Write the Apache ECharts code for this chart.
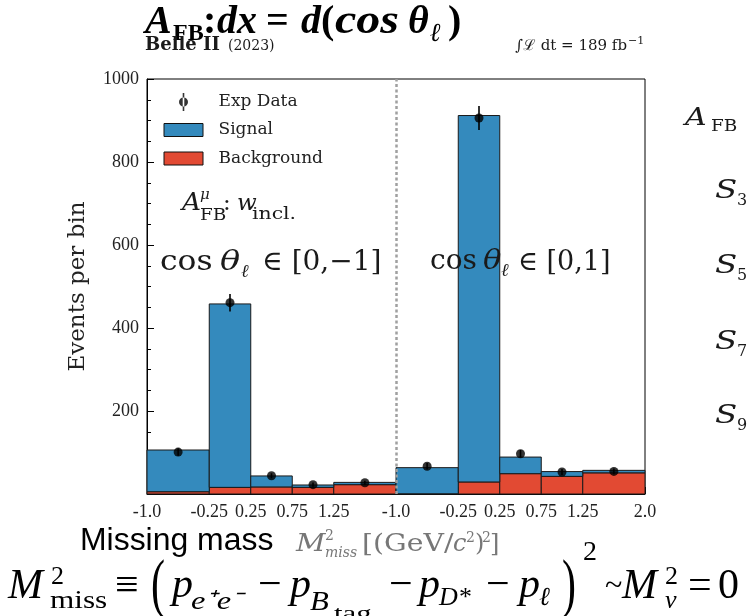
<!DOCTYPE html>
<html><head><meta charset="utf-8">
<script src="https://cdn.jsdelivr.net/npm/echarts@6/dist/echarts.min.js"></script>
<style>html,body{margin:0;padding:0;background:#fff}#c{width:748px;height:616px}</style>
</head><body><div id="c"></div>
<script>
// ---- data ----
const binEdges = [-1.0, -0.25, 0.25, 0.75, 1.25, 2.0];
const tickLabels = ['-1.0','-0.25','0.25','0.75','1.25','-1.0','-0.25','0.25','0.75','1.25','2.0'];
const backgroundNeg = [5.5, 16, 17, 16, 22.5];
const signalNeg = [100.5, 442, 26.5, 5.7, 5.5];
const dataNeg = [101, 461, 44, 22.5, 27];
const errNeg = [9, 21, 6, 5, 5];
const backgroundPos = [0.5, 29, 49, 42.5, 51];
const signalPos = [63, 883, 40, 11.5, 6];
const dataPos = [67, 906, 97, 53, 54.5];
const errPos = [8, 29, 9, 7, 7];
const yMax = 1000, yInterval = 200;

// ---- build ----
const span = binEdges[binEdges.length-1] - binEdges[0];
const halves = [
  {bg: backgroundNeg, sig: signalNeg, d: dataNeg, e: errNeg},
  {bg: backgroundPos, sig: signalPos, d: dataPos, e: errPos}
];
const bgRects = [], sigRects = [], pts = [];
halves.forEach((h, hi) => {
  for (let i = 0; i < binEdges.length - 1; i++) {
    const u0 = hi*span + binEdges[i] - binEdges[0];
    const u1 = hi*span + binEdges[i+1] - binEdges[0];
    bgRects.push([u0, u1, 0, h.bg[i]]);
    sigRects.push([u0, u1, h.bg[i], h.bg[i] + h.sig[i]]);
    pts.push([(u0+u1)/2, h.d[i], h.e[i]]);
  }
});
const tickPos = [];
halves.forEach((h, hi) => {
  const n = hi === halves.length-1 ? binEdges.length : binEdges.length-1;
  for (let i = 0; i < n; i++) tickPos.push(hi*span + binEdges[i] - binEdges[0]);
});

function rectItem(params, api) {
  const p0 = api.coord([api.value(0), api.value(3)]);
  const p1 = api.coord([api.value(1), api.value(2)]);
  return {type:'rect', shape:{x:p0[0], y:p0[1], width:p1[0]-p0[0], height:p1[1]-p0[1]},
    style:{fill: api.visual('color'), stroke:'#1a1a1a', lineWidth:1}};
}
function errItem(params, api) {
  const x = api.value(0), y = api.value(1), e = api.value(2);
  const a = api.coord([x, y-e]), b = api.coord([x, y+e]);
  return {type:'line', shape:{x1:a[0], y1:a[1], x2:b[0], y2:b[1]}, style:{stroke:'#000', lineWidth:1.6}};
}

const SERIF = "'DejaVu Serif'";
const LSERIF = "'Liberation Serif'";
function T(x, base, text, size, o) {
  o = o || {};
  const fam = o.fam || SERIF;
  const font = (o.it ? 'italic ' : '') + (o.bold ? 'bold ' : '') + size + 'px ' + fam;
  const y = (o.yc !== undefined) ? o.yc : base - 0.34*size;
  const al = o.align || 'left';
  return {type:'text', x:x, y:y, silent:true, z:100, scaleX:o.sx||1, scaleY:o.sy||1,
    style:{text:text, font:font, fill:o.fill||'#1a1a1a', align:al, textAlign:al, verticalAlign:'middle', textVerticalAlign:'middle'}};
}
const TB = LSERIF;
const K = '#000', G = '#777';
const gfx = [
  // title
  T(145, 36, 'A', 40, {fam:TB, it:1, bold:1, fill:K}),
  T(173, 41.5, 'FB', 24, {fam:TB, bold:1, fill:K}),
  T(203, 36, ':', 40, {fam:TB, bold:1, fill:K}),
  T(217, 36, 'dx', 40, {fam:TB, it:1, bold:1, fill:K}),
  T(266, 36, '=', 40, {fam:TB, bold:1, fill:K}),
  T(301, 36, 'd', 40, {fam:TB, it:1, bold:1, fill:K}),
  T(321, 36, '(', 40, {fam:TB, bold:1, fill:K}),
  T(335, 36, 'cos', 40, {fam:TB, it:1, bold:1, fill:K, sx:1.2}),
  T(408, 36, 'θ', 40, {fam:TB, it:1, bold:1, fill:K}),
  T(430, 43, 'ℓ', 26, {fam:TB, it:1, bold:1, fill:K}),
  T(448, 36, ')', 40, {fam:TB, bold:1, fill:K}),
  // belle II
  T(145, 51, 'Belle II', 18, {bold:1}),
  T(228, 51, '(2023)', 14),
  T(627, 51, '∫ℒ dt = 189 fb', 15, {align:'right'}),
  T(628, 45, '−1', 11),
  // A_FB^mu: w_incl
  T(182, 211.7, 'A', 24, {it:1, sx:1.1}),
  T(200, 200, 'μ', 15, {it:1}),
  T(200, 221.5, 'FB', 16, {sx:1.15}),
  T(223, 211.7, ':', 23),
  T(237, 211.7, 'w', 23, {it:1}),
  T(252, 220.5, 'incl.', 17, {sx:1.2}),
  // cos theta labels
  T(160, 272.5, 'cos', 28, {sx:1.12}),
  T(220, 272.5, 'θ', 28, {it:1, sx:1.2}),
  T(241, 278, 'ℓ', 18, {it:1}),
  T(262, 272.5, '∈ [0,−1]', 28),
  T(430, 271.7, 'cos', 28),
  T(483, 271.7, 'θ', 28, {it:1, sx:1.1}),
  T(501, 277, 'ℓ', 18, {it:1}),
  T(518, 271.7, '∈ [0,1]', 27),
  // right cut-off column
  T(685, 127, 'A', 24, {it:1, sx:1.25}),
  T(711, 132, 'FB', 16, {sx:1.15}),
  T(715, 200, 'S', 26, {it:1, sx:1.25}),
  T(737, 206, '3', 16),
  T(715, 275, 'S', 26, {it:1, sx:1.25}),
  T(737, 281, '5', 16),
  T(715, 351.5, 'S', 26, {it:1, sx:1.25}),
  T(737, 357, '7', 16),
  T(715, 425, 'S', 26, {it:1, sx:1.25}),
  T(737, 431, '9', 16),
  // x label
  T(80, 552, 'Missing mass', 31, {fam:"'Liberation Sans'", fill:K, sx:1.03}),
  T(296, 553, 'M', 24, {it:1, fill:G, sx:1.2}),
  T(325, 541, '2', 14, {fill:G}),
  T(325, 558, 'miss', 14, {it:1, fill:G}),
  T(362, 553, '[(GeV/', 24, {fill:G, sx:1.18}),
  T(453, 553, 'c', 24, {it:1, fill:G}),
  T(466, 543, '2', 14, {fill:G}),
  T(475, 553, ')', 24, {fill:G}),
  T(482, 543, '2', 14, {fill:G}),
  T(490, 553, ']', 24, {fill:G}),
  // formula
  T(8, 601, 'M', 42, {fam:LSERIF, it:1, fill:K}),
  T(51, 586, '2', 26, {fam:LSERIF, fill:K}),
  T(50, 610, 'miss', 26, {fam:LSERIF, fill:K, sx:1.2}),
  T(115, 601, '≡', 42, {fam:LSERIF, fill:K}),
  T(151, 0, '(', 42, {fam:LSERIF, fill:K, yc:588, sy:1.55}),
  T(172, 600, 'p', 42, {fam:LSERIF, it:1, fill:K}),
  T(191, 611, 'e⁺e⁻', 26, {fam:LSERIF, it:1, fill:K, sx:1.25}),
  T(258, 600, '−', 42, {fam:LSERIF, fill:K}),
  T(290, 600, 'p', 42, {fam:LSERIF, it:1, fill:K}),
  T(310, 612, 'B', 28, {fam:LSERIF, it:1, fill:K, sx:1.1}),
  T(334, 622, 'tag', 22, {fam:LSERIF, fill:K, sx:1.4}),
  T(389, 600, '−', 42, {fam:LSERIF, fill:K}),
  T(419, 600, 'p', 42, {fam:LSERIF, it:1, fill:K}),
  T(439, 607, 'D*', 26, {fam:LSERIF, it:1, fill:K}),
  T(486, 600, '−', 42, {fam:LSERIF, fill:K}),
  T(519, 600, 'p', 42, {fam:LSERIF, it:1, fill:K}),
  T(539, 607, 'ℓ', 26, {fam:LSERIF, it:1, fill:K}),
  T(562, 0, ')', 42, {fam:LSERIF, fill:K, yc:588, sy:1.55}),
  T(583, 562, '2', 28, {fam:LSERIF, fill:K}),
  T(605, 597, '~', 32, {fam:LSERIF, fill:K}),
  T(622, 601, 'M', 42, {fam:LSERIF, it:1, fill:K}),
  T(665, 586, '2', 26, {fam:LSERIF, fill:K}),
  T(665, 610, 'ν', 26, {fam:LSERIF, it:1, fill:K}),
  T(688, 601, '=', 42, {fam:LSERIF, fill:K}),
  T(718, 601, '0', 42, {fam:LSERIF, fill:K})
];

const chart = echarts.init(document.getElementById('c'), null, {renderer:'canvas'});
chart.setOption({
  backgroundColor:'#fff',
  animation:false,
  grid:{left:147, right:103, top:79, bottom:122, show:true, borderColor:'#000', borderWidth:1, backgroundColor:'rgba(0,0,0,0)', outerBoundsMode:'none', containLabel:false},
  xAxis:{type:'value', min:0, max:halves.length*span,
    axisLine:{show:true, onZero:false, lineStyle:{color:'#000', width:1}},
    axisTick:{show:true, inside:true, length:7, customValues:tickPos, lineStyle:{color:'#000'}},
    axisLabel:{customValues:tickPos, showMinLabel:true, showMaxLabel:true, margin:9,
      fontFamily:'Liberation Serif', fontSize:18, color:'#222',
      formatter:function(v){ for (let i=0;i<tickPos.length;i++) if (Math.abs(tickPos[i]-v)<1e-6) return tickLabels[i]; return ''; }},
    splitLine:{show:false}},
  yAxis:{type:'value', min:0, max:yMax, interval:yInterval,
    name:'Events per bin', nameLocation:'middle', nameGap:57,
    nameTextStyle:{fontFamily:'DejaVu Serif', fontSize:23, color:'#222'},
    axisLine:{show:true, lineStyle:{color:'#000', width:1}},
    axisTick:{show:true, inside:true, length:7, lineStyle:{color:'#000'}},
    minorTick:{show:true, splitNumber:4, length:4, lineStyle:{color:'#000'}},
    axisLabel:{margin:8, fontFamily:'Liberation Serif', fontSize:18, color:'#222',
      formatter:function(v){ return v === 0 ? '' : String(v); }},
    splitLine:{show:false}},
  legend:{orient:'vertical', left:158, top:88, itemWidth:50, itemHeight:18, itemGap:9.5, symbolKeepAspect:true,
    textStyle:{fontFamily:'DejaVu Serif', fontSize:17, color:'#222'},
    data:[
      {name:'Exp Data', icon:'path://M0 0M50 18M19.2 0L20.8 0L20.8 18L19.2 18Z M15.5 9A4.5 4.5 0 1 0 24.5 9A4.5 4.5 0 1 0 15.5 9Z', itemStyle:{color:'#000', borderWidth:0}},
      {name:'Signal', icon:'path://M0 0M50 18M0.5 2.5L39.5 2.5L39.5 15.5L0.5 15.5Z', itemStyle:{color:'#348ABD', borderColor:'#111', borderWidth:1}},
      {name:'Background', icon:'path://M0 0M50 18M0.5 2.5L39.5 2.5L39.5 15.5L0.5 15.5Z', itemStyle:{color:'#E24A33', borderColor:'#111', borderWidth:1}}
    ]},
  series:[
    {name:'Background', type:'custom', renderItem:rectItem, data:bgRects, itemStyle:{color:'#E24A33'}, encode:{x:[0,1], y:[2,3]}, z:2},
    {name:'Signal', type:'custom', renderItem:rectItem, data:sigRects, itemStyle:{color:'#348ABD'}, encode:{x:[0,1], y:[2,3]}, z:2},
    {name:'Exp Data err', type:'custom', renderItem:errItem, data:pts, encode:{x:0, y:1}, z:4},
    {name:'Exp Data', type:'scatter', data:pts.map(p => [p[0], p[1]]), symbolSize:9, itemStyle:{color:'#000'}, z:5,
      markLine:{silent:true, symbol:'none', label:{show:false}, animation:false,
        lineStyle:{type:[3,2.5], color:'#a0a0a0', width:2.5}, data:[{xAxis:halves.length*span/2}]}}
  ],
  graphic:{elements:gfx}
});
</script></body></html>
